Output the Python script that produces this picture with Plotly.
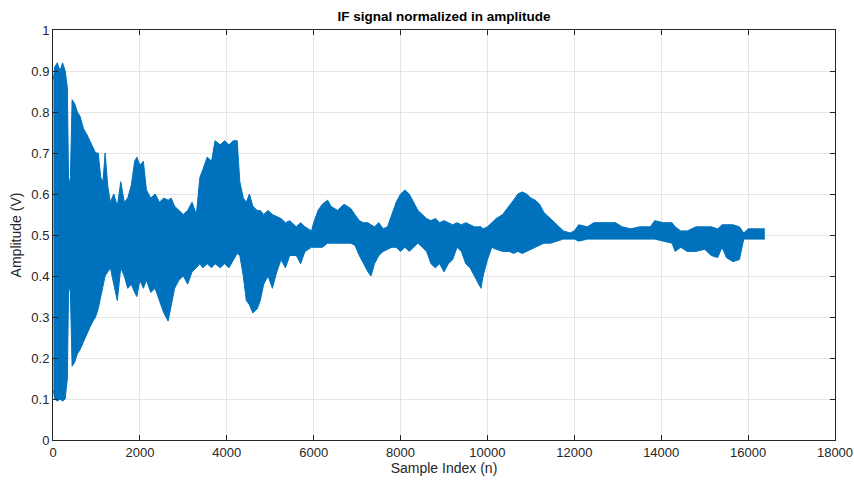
import plotly.graph_objects as go

# Envelope of the normalized IF signal: sample index, upper and lower extremes (V)
sample_idx = [10, 40, 100, 160, 220, 280, 330, 360, 400, 440, 500, 560, 620, 700, 780, 850,
              920, 980, 1040, 1100, 1150, 1200, 1260, 1320, 1400, 1480, 1560, 1640, 1720,
              1800, 1880, 1930, 2000, 2080, 2150, 2250, 2350, 2450, 2550, 2650, 2720, 2800,
              2900, 3000, 3100, 3200, 3300, 3380, 3450, 3550, 3650, 3730, 3850, 3950, 4050,
              4150, 4240, 4300, 4380, 4450, 4520, 4600, 4700, 4770, 4850, 4950, 5050, 5150,
              5250, 5350, 5450, 5600, 5700, 5800, 5950, 6000, 6100, 6200, 6320, 6400, 6550,
              6700, 6850, 6950, 7050, 7150, 7250, 7320, 7400, 7500, 7600, 7700, 7800, 7900,
              8000, 8100, 8200, 8300, 8400, 8500, 8600, 8700, 8800, 8900, 9000, 9100, 9200,
              9300, 9400, 9500, 9600, 9700, 9800, 9850, 9900, 10000, 10100, 10200, 10350,
              10500, 10600, 10700, 10800, 10900, 11000, 11100, 11200, 11300, 11450, 11600,
              11750, 11900, 12000, 12100, 12300, 12450, 12700, 12950, 13100, 13300, 13500,
              13750, 13850, 14050, 14250, 14320, 14450, 14600, 14800, 15000, 15150, 15300,
              15400, 15500, 15650, 15800, 15900, 16000, 16200, 16384]

upper_env = [0.88, 0.91, 0.92, 0.90, 0.92, 0.90, 0.86, 0.62, 0.64, 0.83, 0.82, 0.80, 0.79, 0.76,
             0.745, 0.73, 0.715, 0.70, 0.70, 0.64, 0.63, 0.70, 0.62, 0.58, 0.60, 0.57, 0.63,
             0.58, 0.59, 0.62, 0.68, 0.69, 0.67, 0.68, 0.61, 0.59, 0.60, 0.58, 0.59, 0.585,
             0.59, 0.57, 0.56, 0.55, 0.56, 0.58, 0.55, 0.64, 0.66, 0.69, 0.68, 0.73, 0.72,
             0.73, 0.72, 0.73, 0.73, 0.63, 0.59, 0.58, 0.60, 0.57, 0.56, 0.56, 0.55, 0.56,
             0.55, 0.545, 0.54, 0.53, 0.535, 0.52, 0.53, 0.52, 0.51, 0.53, 0.56, 0.575, 0.585,
             0.57, 0.56, 0.575, 0.565, 0.55, 0.535, 0.53, 0.53, 0.525, 0.52, 0.53, 0.515, 0.52,
             0.55, 0.58, 0.60, 0.61, 0.60, 0.58, 0.56, 0.55, 0.54, 0.535, 0.54, 0.53, 0.535,
             0.53, 0.525, 0.53, 0.525, 0.53, 0.525, 0.52, 0.52, 0.52, 0.515, 0.52, 0.53, 0.54,
             0.55, 0.57, 0.585, 0.60, 0.605, 0.60, 0.59, 0.585, 0.575, 0.555, 0.54, 0.525,
             0.51, 0.505, 0.51, 0.525, 0.52, 0.53, 0.53, 0.53, 0.52, 0.515, 0.52, 0.52, 0.535,
             0.53, 0.53, 0.52, 0.51, 0.51, 0.52, 0.52, 0.52, 0.515, 0.525, 0.525, 0.525, 0.52,
             0.505, 0.515, 0.515, 0.515]

lower_env = [0.12, 0.10, 0.095, 0.10, 0.095, 0.10, 0.15, 0.38, 0.36, 0.18, 0.19, 0.21, 0.22, 0.24,
             0.26, 0.275, 0.29, 0.30, 0.32, 0.35, 0.38, 0.40, 0.41, 0.42, 0.38, 0.34, 0.42,
             0.40, 0.37, 0.38, 0.36, 0.35, 0.39, 0.37, 0.39, 0.36, 0.37, 0.34, 0.31, 0.29,
             0.33, 0.37, 0.39, 0.40, 0.38, 0.41, 0.42, 0.43, 0.42, 0.43, 0.42, 0.43, 0.42,
             0.43, 0.42, 0.44, 0.455, 0.45, 0.40, 0.34, 0.33, 0.31, 0.32, 0.34, 0.38, 0.40,
             0.37, 0.41, 0.44, 0.42, 0.45, 0.45, 0.43, 0.46, 0.47, 0.47, 0.47, 0.47, 0.48,
             0.48, 0.48, 0.48, 0.48, 0.475, 0.45, 0.43, 0.41, 0.40, 0.43, 0.45, 0.46, 0.465,
             0.47, 0.47, 0.46, 0.47, 0.46, 0.47, 0.48, 0.47, 0.46, 0.43, 0.42, 0.43, 0.41,
             0.43, 0.44, 0.47, 0.46, 0.43, 0.42, 0.40, 0.38, 0.37, 0.40, 0.44, 0.47, 0.465,
             0.46, 0.46, 0.455, 0.46, 0.455, 0.46, 0.465, 0.47, 0.475, 0.48, 0.48, 0.485,
             0.49, 0.49, 0.49, 0.485, 0.49, 0.49, 0.49, 0.49, 0.49, 0.49, 0.49, 0.49, 0.49,
             0.485, 0.48, 0.46, 0.47, 0.46, 0.46, 0.465, 0.45, 0.445, 0.47, 0.445, 0.435,
             0.44, 0.49, 0.49, 0.49, 0.49]

x_ticks = list(range(0, 18001, 2000))
y_ticks = [round(0.1 * i, 1) for i in range(11)]
y_tick_text = ["0", "0.1", "0.2", "0.3", "0.4", "0.5", "0.6", "0.7", "0.8", "0.9", "1"]

BLUE = "#0072BD"
INK = "#262626"
GRID = "#e6e6e6"
FONT = "Liberation Sans, Arial, sans-serif"

fig = go.Figure()
fig.add_trace(go.Scatter(x=sample_idx, y=upper_env, mode="lines",
                         line=dict(color=BLUE, width=1), showlegend=False))
fig.add_trace(go.Scatter(x=sample_idx, y=lower_env, mode="lines",
                         line=dict(color=BLUE, width=1), fill="tonexty",
                         fillcolor=BLUE, showlegend=False))

axis_common = dict(showline=True, linecolor=INK, linewidth=1, mirror="allticks",
                   ticks="inside", ticklen=5, tickcolor=INK, showgrid=True,
                   gridcolor=GRID, gridwidth=1, zeroline=False, automargin=False,
                   tickfont=dict(family=FONT, size=13, color=INK))

fig.update_xaxes(range=[0, 18000], tickvals=x_ticks, ticktext=[str(v) for v in x_ticks],
                 title=dict(text="Sample Index (n)", standoff=4,
                            font=dict(family=FONT, size=14, color=INK)),
                 **axis_common)
fig.update_yaxes(range=[0, 1], tickvals=y_ticks, ticktext=y_tick_text,
                 title=dict(text="Amplitude (V)", standoff=6,
                            font=dict(family=FONT, size=14, color=INK)),
                 **axis_common)

fig.update_layout(
    width=854, height=482,
    margin=dict(l=53, r=19, t=30, b=42),
    plot_bgcolor="white", paper_bgcolor="white",
    title=dict(text="<b>IF signal normalized in amplitude</b>", x=444 / 854, xanchor="center",
               y=1 - 16 / 482, yanchor="middle", yref="container",
               font=dict(family=FONT, size=13.5, color="black")),
)

fig.write_html("out.html")
